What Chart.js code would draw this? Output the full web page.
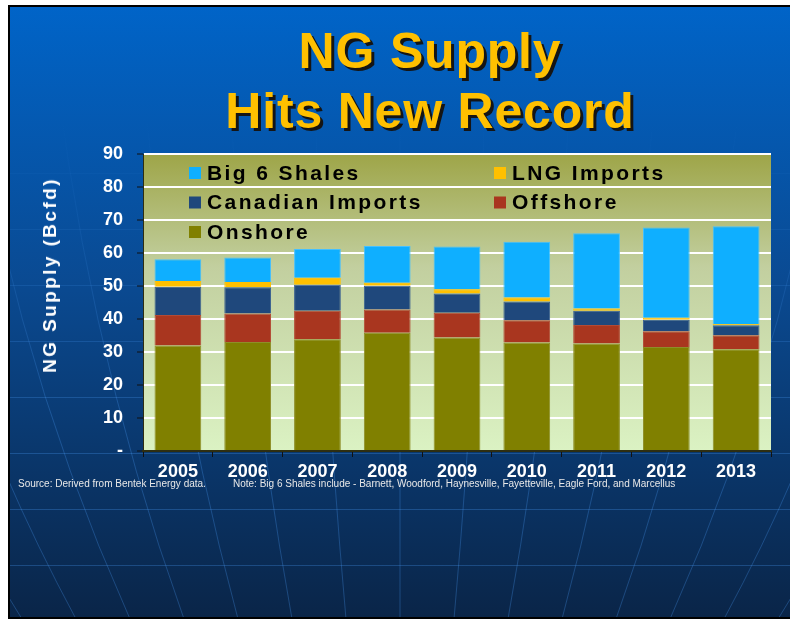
<!DOCTYPE html>
<html>
<head>
<meta charset="utf-8">
<script src="https://cdn.jsdelivr.net/npm/chart.js@4.4.0/dist/chart.umd.min.js"></script>
<style>
  body { margin: 0; background: #fff; }
  #wrap { position: relative; width: 790px; height: 619px; overflow: hidden; }
  #chart { position: absolute; left: 0; top: 0; }
  .title {
    position: absolute; left: 130px; width: 600px; top: 21px;
    text-align: center; color: #ffc000;
    font: bold 50px/60px "Liberation Sans", Arial, sans-serif;
    letter-spacing: 0.8px;
    text-shadow: 3px 3px 0 #151515;
  }
  .ytitle {
    position: absolute; left: 50px; top: 275px;
    transform: translate(-50%, -50%) rotate(-90deg);
    white-space: nowrap; color: #fff;
    font: bold 19px "Liberation Sans", Arial, sans-serif;
    letter-spacing: 2.4px;
  }
  .foot {
    position: absolute; top: 478px; white-space: nowrap; color: #e8e8e8;
    font: 10px "Liberation Sans Narrow", "Arial Narrow", sans-serif;
  }
</style>
</head>
<body>
<div id="wrap">
  <canvas id="chart" width="790" height="619"></canvas>
  <div class="title">NG Supply<br>Hits New Record</div>
  <div class="ytitle">NG Supply (Bcfd)</div>
  <div class="foot" style="left:18px">Source: Derived from Bentek Energy data.</div>
  <div class="foot" style="left:233px">Note: Big 6 Shales include - Barnett, Woodford, Haynesville, Fayetteville, Eagle Ford, and Marcellus</div>
</div>
<script>
const years = ['2005', '2006', '2007', '2008', '2009', '2010', '2011', '2012', '2013'];
// Bcfd
const onshore = [32.0, 33.0, 33.9, 35.8, 34.4, 32.9, 32.6, 31.5, 30.8];
const offshore = [9.2, 8.7, 8.6, 7.1, 7.5, 6.7, 5.6, 4.8, 4.3];
const canadianImports = [8.6, 7.9, 7.9, 7.2, 5.8, 5.7, 4.3, 3.5, 3.0];
const lngImports = [1.7, 1.6, 2.1, 0.9, 1.3, 1.2, 0.7, 0.6, 0.4];
const big6Shales = [6.6, 7.4, 8.7, 11.1, 13.0, 16.9, 22.8, 27.3, 29.6];
const yTicks = [0, 10, 20, 30, 40, 50, 60, 70, 80, 90];

const FONT = '"Liberation Sans", Arial, sans-serif';

// slide background, globe lines and the plot-area gradient
const backdrop = {
  id: 'backdrop',
  beforeDraw(chart) {
    const { ctx, chartArea: a, width, height } = chart;
    ctx.save();
    ctx.fillStyle = '#fff';
    ctx.fillRect(0, 0, width, height);
    ctx.fillStyle = '#000';
    ctx.fillRect(8, 5, width - 8, height - 5);
    const bg = ctx.createLinearGradient(0, 7, 0, height - 2);
    bg.addColorStop(0, '#0064c8');
    bg.addColorStop(0.45, '#0a4a92');
    bg.addColorStop(1, '#0a2548');
    ctx.fillStyle = bg;
    ctx.fillRect(10, 7, width - 10, height - 9);

    ctx.beginPath();
    ctx.rect(10, 7, width - 10, height - 9);
    ctx.clip();
    const line = ctx.createLinearGradient(0, 120, 0, 420);
    line.addColorStop(0, 'rgba(70, 150, 240, 0)');
    line.addColorStop(1, 'rgba(70, 150, 240, 0.3)');
    ctx.strokeStyle = line;
    ctx.lineWidth = 1;
    for (let y = 117; y < height; y += 56) {
      ctx.beginPath();
      ctx.moveTo(10, y + 0.5);
      ctx.lineTo(width, y + 0.5);
      ctx.stroke();
    }
    for (let i = -9; i <= 9; i++) {
      ctx.beginPath();
      ctx.moveTo(400 + i * 88, 0);
      ctx.quadraticCurveTo(400 + i * 80, 330, 400 + i * 54, height);
      ctx.stroke();
    }
    ctx.restore();

    const g = ctx.createLinearGradient(0, a.top, 0, a.bottom);
    g.addColorStop(0, '#9ea548');
    g.addColorStop(0.38, '#c2cf9f');
    g.addColorStop(1, '#dbf2c3');
    ctx.fillStyle = g;
    ctx.fillRect(a.left, a.top, a.right - a.left, a.bottom - a.top);
  }
};

// legend drawn inside the top of the plot, two columns, top series first
const insideLegend = {
  id: 'insideLegend',
  afterDatasetsDraw(chart) {
    const { ctx, chartArea: a } = chart;
    const items = chart.data.datasets.slice().reverse();
    ctx.save();
    ctx.font = 'bold 21px ' + FONT;
    ctx.letterSpacing = '2.4px';
    ctx.textBaseline = 'middle';
    items.forEach((ds, i) => {
      const x = a.left + (i % 2 ? 351 : 46);
      const y = a.top + 19 + Math.floor(i / 2) * 29.5;
      ctx.fillStyle = ds.backgroundColor;
      ctx.fillRect(x, y - 6, 12, 12);
      ctx.fillStyle = '#000';
      ctx.fillText(ds.label, x + 18, y + 1);
    });
    ctx.restore();
  }
};

new Chart(document.getElementById('chart'), {
  type: 'bar',
  data: {
    labels: years,
    datasets: [
      { label: 'Onshore', data: onshore, backgroundColor: '#808000', borderColor: '#8e8e28' },
      { label: 'Offshore', data: offshore, backgroundColor: '#a9361f', borderColor: '#b24a35' },
      { label: 'Canadian Imports', data: canadianImports, backgroundColor: '#1f487c', borderColor: '#3a6090' },
      { label: 'LNG Imports', data: lngImports, backgroundColor: '#ffc000', borderColor: '#ffc000' },
      { label: 'Big 6 Shales', data: big6Shales, backgroundColor: '#0fafff', borderColor: '#45c0ff' }
    ]
  },
  options: {
    responsive: false,
    animation: false,
    layout: { padding: { left: 0, top: 154, right: 19, bottom: 128 } },
    datasets: { bar: { categoryPercentage: 1, barPercentage: 0.67, borderWidth: 1 } },
    plugins: { legend: { display: false }, tooltip: { enabled: false } },
    scales: {
      x: {
        stacked: true,
        grid: { drawOnChartArea: false, offset: true, tickLength: 6, tickColor: '#111' },
        border: { color: '#2e2e12', width: 2 },
        ticks: { color: '#fff', padding: 4, font: { family: FONT, size: 18, weight: 'bold' } },
        afterFit(s) { s.height = 40; }
      },
      y: {
        stacked: true,
        min: yTicks[0],
        max: yTicks[yTicks.length - 1],
        afterBuildTicks(s) { s.ticks = yTicks.map(v => ({ value: v })); },
        ticks: {
          color: '#fff', padding: 14,
          font: { family: FONT, size: 18, weight: 'bold' },
          callback: v => v === 0 ? '-' : v
        },
        grid: { color: '#fff', lineWidth: 2, tickLength: 6, tickColor: '#111', tickWidth: 1 },
        border: { color: '#2e2e12', width: 1 },
        afterFit(s) { s.width = 143; }
      }
    }
  },
  plugins: [backdrop, insideLegend]
});
</script>
</body>
</html>
